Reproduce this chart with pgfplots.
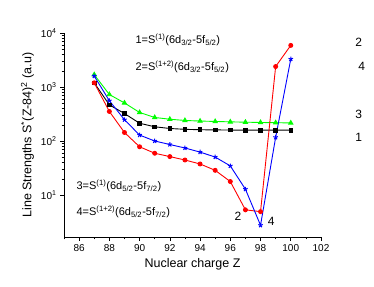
\documentclass[border=0pt]{standalone}
\usepackage{pgfplots}
\pgfplotsset{compat=1.18}
\usepackage{fontspec}
\setmainfont{Liberation Sans}
\begin{document}
\begin{tikzpicture}
\path[use as bounding box] (0,0) rectangle (374pt,286pt);
\begin{axis}[
  at={(64pt,49pt)}, anchor=south west,
  scale only axis, width=257pt, height=204pt,
  ymode=log, xmin=85, xmax=102, ymin=1.7, ymax=10000,
  axis lines=left, axis line style={-, line width=0.8pt},
  tick align=outside, tick style={black, line width=0.6pt},
  major tick length=4pt, minor tick length=2.5pt,
  xtick={86,88,...,102}, minor xtick={85,87,...,101},
  ytick={10,100,1000,10000},
  yticklabels={10\textsuperscript{1},10\textsuperscript{2},10\textsuperscript{3},10\textsuperscript{4}},
  xticklabel style={font=\fontsize{10}{12}\selectfont},
  yticklabel style={font=\fontsize{10}{12}\selectfont},
  /pgf/number format/assume math mode=true,
  xlabel={Nuclear charge Z},
  ylabel={Line Strengths S\textsuperscript{*}(Z-84)\textsuperscript{2} (a.u)},
  label style={font=\fontsize{12.5}{14}\selectfont},
  clip=false,
]
\addplot[black, line width=0.9pt, mark=square*, mark size=1.8pt] coordinates {
(87,1200) (88,470) (89,325) (90,215) (91,185) (92,172) (93,166) (94,163) (95,162) (96,161) (97,160) (98,160) (99,160) (100,160)};
\addplot[green, line width=0.9pt, mark=triangle*, mark size=2.4pt] coordinates {
(87,1700) (88,730) (89,510) (90,340) (91,275) (92,255) (93,242) (94,236) (95,232) (96,228) (97,225) (98,222) (99,220) (100,218)};
\addplot[red, line width=0.9pt, mark=*, mark size=2pt] coordinates {
(87,1200) (88,355) (89,145) (90,79) (91,60) (92,52) (93,45) (94,38) (95,29) (96,18) (97,5.4) (98,5.0) (99,2400) (100,5900)};
\addplot[blue, line width=0.9pt, mark=star, mark size=2.4pt, mark options={line width=1pt}] coordinates {
(87,1600) (88,560) (89,250) (90,130) (91,101) (92,87) (93,75) (94,63) (95,51) (96,35) (97,13) (98,2.8) (99,118) (100,3300)};
\node[anchor=west, font=\fontsize{11}{13}\selectfont] at (axis cs:89.5,7400) {1=S\textsuperscript{(1)}(6d\textsubscript{3/2}-5f\textsubscript{5/2})};
\node[anchor=west, font=\fontsize{11}{13}\selectfont] at (axis cs:89.5,2360) {2=S\textsuperscript{(1+2)}(6d\textsubscript{3/2}-5f\textsubscript{5/2})};
\node[anchor=west, font=\fontsize{11}{13}\selectfont] at (axis cs:85.6,15) {3=S\textsuperscript{(1)}(6d\textsubscript{5/2}-5f\textsubscript{7/2})};
\node[anchor=west, font=\fontsize{11}{13}\selectfont] at (axis cs:85.6,5) {4=S\textsuperscript{(1+2)}(6d\textsubscript{5/2}-5f\textsubscript{7/2})};
\node[font=\fontsize{12}{14}\selectfont] at (axis cs:104.5,6800) {2};
\node[font=\fontsize{12}{14}\selectfont] at (axis cs:104.7,2450) {4};
\node[font=\fontsize{12}{14}\selectfont] at (axis cs:104.5,310) {3};
\node[font=\fontsize{12}{14}\selectfont] at (axis cs:104.5,120) {1};
\node[font=\fontsize{12}{14}\selectfont] at (axis cs:96.5,4.1) {2};
\node[font=\fontsize{12}{14}\selectfont] at (axis cs:98.7,3.3) {4};
\end{axis}
\end{tikzpicture}
\end{document}
